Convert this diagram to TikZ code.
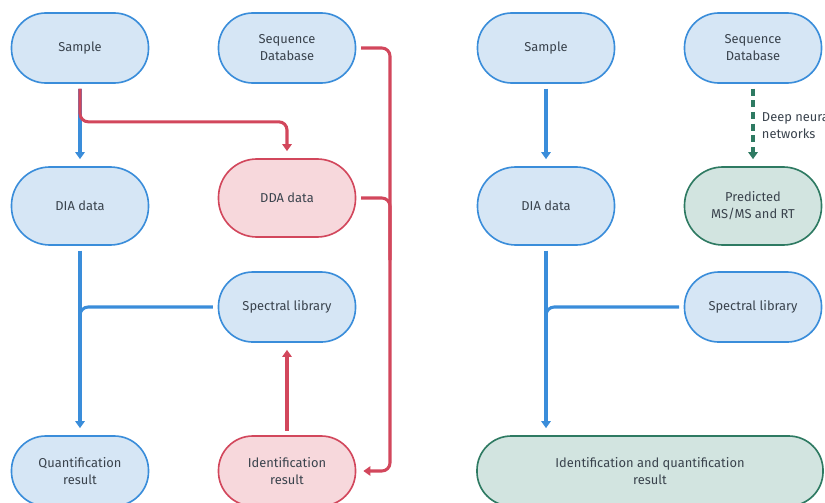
\documentclass[tikz,border=0pt]{standalone}
\usepackage{fontspec}
\setmainfont{Fira Sans}
\usetikzlibrary{arrows.meta}
\definecolor{bluefill}{HTML}{D6E6F5}
\definecolor{blueline}{HTML}{3A8DDA}
\definecolor{redfill}{HTML}{F7D8DC}
\definecolor{redline}{HTML}{D2475C}
\definecolor{greenfill}{HTML}{D2E4E0}
\definecolor{greenline}{HTML}{2E7A62}
\definecolor{txt}{HTML}{3A434D}
\begin{document}
\begin{tikzpicture}[x=0.03cm, y=-0.03cm,
  box/.style={rectangle, rounded corners=1.03cm, draw=blueline, fill=bluefill,
    line width=1.4pt, minimum width=4.11cm, minimum height=2.1cm, align=center,
    text=txt, font=\fontsize{11}{14.5}\selectfont},
  tall/.style={minimum height=2.34cm, rounded corners=1.15cm},
  redbox/.style={box, draw=redline, fill=redfill},
  greenbox/.style={box, draw=greenline, fill=greenfill},
  link/.style={line width=2.6pt, rounded corners=7pt, shorten <=4pt},
  tip/.style={-{Triangle[width=8pt,length=6pt]}, shorten >=6pt}]
  \useasboundingbox (0,0) rectangle (825,502);
  % left: library from DDA
  \node[box] (samp) at (80,48) {Sample};
  \node[box] (seq) at (287,48) {Sequence\\Database};
  \node[box, tall] (dia) at (80,206) {DIA data};
  \node[redbox, tall] (dda) at (287,198) {DDA data};
  \node[box] (spec) at (287,307) {Spectral library};
  \node[box] (quant) at (80,471) {Quantification\\result};
  \node[redbox] (ident) at (287,471) {Identification\\result};
  \coordinate (j1) at (80,360);
  \coordinate (j2) at (390,260);
  \draw[link, tip, blueline] (samp.south) -- (dia.north);
  \draw[link, tip, redline] (samp.south) -- ++(0,38) -| (dda.north);
  \draw[link, tip, blueline] (dia.south) -- (quant.north);
  \draw[link, blueline] (spec.west) -| (j1);
  \draw[link, tip, redline] (seq.east) -| (j2) |- (ident.east);
  \draw[link, redline] (dda.east) -| (j2);
  \draw[link, tip, redline] (ident.north) -- (spec.south);
  % right: predicted library
  \node[box] (samp2) at (546,48) {Sample};
  \node[box] (seq2) at (753,48) {Sequence\\Database};
  \node[box, tall] (dia2) at (546,206) {DIA data};
  \node[greenbox, tall] (pred) at (753,206) {Predicted\\MS/MS and RT};
  \node[box] (spec2) at (753,307) {Spectral library};
  \node[greenbox, minimum width=10.38cm] (iq) at (650,471)
    {Identification and quantification\\result};
  \coordinate (j3) at (546,360);
  \draw[link, tip, blueline] (samp2.south) -- (dia2.north);
  \draw[link, tip, greenline, dash pattern=on 6pt off 4pt] (seq2.south) -- (pred.north)
    node[midway, right=3pt, align=left, text=txt, font=\fontsize{11}{14.5}\selectfont]
    {Deep neural\\networks};
  \draw[link, tip, blueline] (dia2.south) -- (iq.north -| dia2.south);
  \draw[link, blueline] (spec2.west) -| (j3);
\end{tikzpicture}
\end{document}
